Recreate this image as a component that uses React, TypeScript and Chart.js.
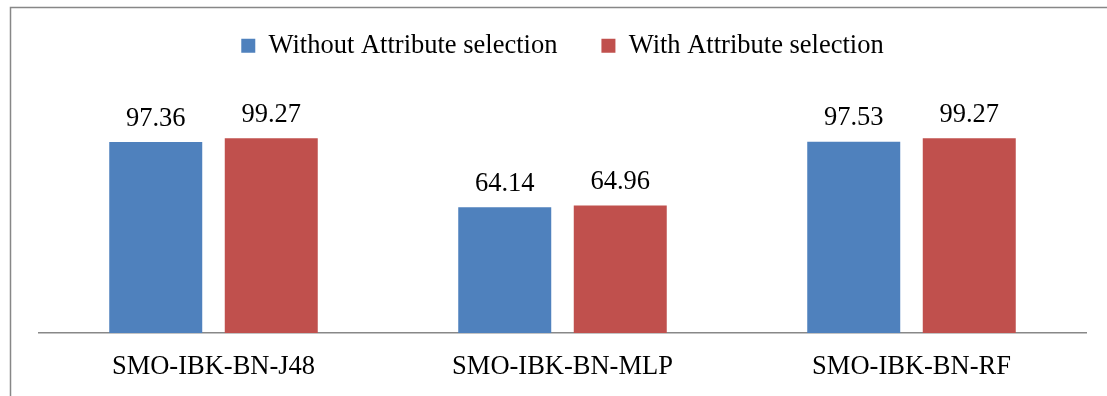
import React, { useEffect, useRef } from "react";
import { Chart, registerables } from "chart.js";

Chart.register(...registerables);

const categories = ["SMO-IBK-BN-J48", "SMO-IBK-BN-MLP", "SMO-IBK-BN-RF"];
const withoutSelection = [97.36, 64.14, 97.53];
const withSelection = [99.27, 64.96, 99.27];
const seriesNames = ["Without Attribute selection", "With Attribute selection"];

const FONT = '"Liberation Serif", "Times New Roman", serif';

const framePlugin = {
  id: "frame",
  beforeDraw(chart: any) {
    const ctx = chart.ctx;
    ctx.save();
    ctx.fillStyle = "#ffffff";
    ctx.fillRect(0, 0, chart.width, chart.height);
    ctx.strokeStyle = "#878787";
    ctx.lineWidth = 1.5;
    ctx.strokeRect(10.5, 7.5, 1300, 600);
    ctx.restore();
  },
};

const valueLabelPlugin = {
  id: "valueLabels",
  afterDatasetsDraw(chart: any) {
    const ctx = chart.ctx;
    ctx.save();
    ctx.font = `26.5px ${FONT}`;
    ctx.fillStyle = "#000000";
    ctx.textAlign = "center";
    ctx.textBaseline = "alphabetic";
    chart.data.datasets.forEach((ds: any, i: number) => {
      const meta = chart.getDatasetMeta(i);
      meta.data.forEach((bar: any, j: number) => {
        ctx.fillText(Number(ds.data[j]).toFixed(2), bar.x, bar.y - 16.5);
      });
    });
    ctx.restore();
  },
};

export default function App() {
  const ref = useRef<HTMLCanvasElement | null>(null);
  useEffect(() => {
    if (!ref.current) return;
    const chart = new Chart(ref.current, {
      type: "bar",
      data: {
        labels: categories,
        datasets: [
          {
            label: seriesNames[0],
            data: withoutSelection,
            backgroundColor: "#4F81BD",
            borderWidth: 0,
          },
          {
            label: seriesNames[1],
            data: withSelection,
            backgroundColor: "#C0504D",
            borderWidth: 0,
          },
        ],
      },
      options: {
        responsive: false,
        animation: false,
        layout: { padding: { left: 39, right: 21, top: -11.5, bottom: 0 } },
        datasets: {
          bar: { categoryPercentage: 0.662, barPercentage: 0.805 },
        },
        plugins: {
          legend: {
            position: "top",
            labels: {
              boxWidth: 14,
              boxHeight: 14,
              padding: 44,
              color: "#000000",
              font: { size: 26.5, family: FONT },
            },
          },
          tooltip: { enabled: false },
        },
        scales: {
          x: {
            grid: { display: false },
            border: { display: true, color: "#888888", width: 1.5 },
            ticks: {
              color: "#000000",
              font: { size: 26.5, family: FONT },
              padding: 10,
              maxRotation: 0,
            },
            afterFit: (axis: any) => {
              axis.height = 63;
            },
          },
          y: {
            display: false,
            min: 0,
            max: 134.6,
          },
        },
      },
      plugins: [framePlugin, valueLabelPlugin],
    });
    return () => chart.destroy();
  }, []);
  return (
    <div style={{ position: "absolute", left: 0, top: 0, width: 1107, height: 396 }}>
      <canvas ref={ref} width={1107} height={396} />
    </div>
  );
}
